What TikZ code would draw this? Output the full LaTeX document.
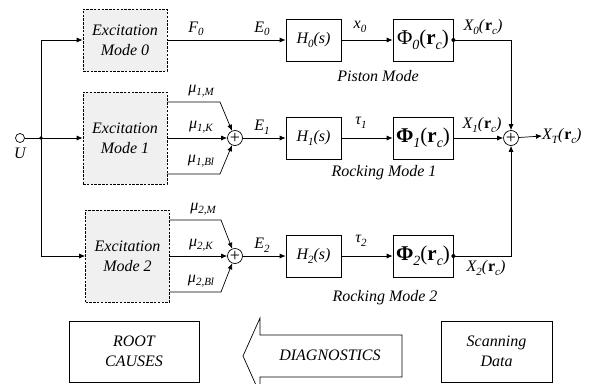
\documentclass[tikz,border=0pt]{standalone}
\usepackage{fontspec}
\setmainfont{Liberation Serif}
\usetikzlibrary{arrows.meta}
\newcommand{\sbs}[1]{\raisebox{-0.22em}{\fontsize{11}{11}\selectfont\itshape #1}}
\newcommand{\psbs}[1]{\raisebox{-0.22em}{\fontsize{14}{14}\selectfont\itshape #1}}
\newcommand{\rb}{\textup{\textbf{r}}}
\newcommand{\phifont}{\fontsize{21}{21}\selectfont\upshape}
\begin{document}
\begin{tikzpicture}[x=1pt,y=-1pt,
  every node/.style={font=\fontsize{16}{20}\selectfont\itshape, inner sep=0pt},
  exc/.style={draw, dash pattern=on 2.5pt off 1.3pt, fill=gray!12, minimum width=84pt, align=center, line width=0.7pt},
  blk/.style={draw, minimum width=55pt, minimum height=42pt, line width=0.7pt},
  phib/.style={draw, minimum width=60pt, minimum height=42pt, line width=0.7pt},
  sumc/.style={circle, draw, minimum size=15pt, line width=0.7pt, font=\fontsize{18}{18}\selectfont\upshape},
  plainbox/.style={draw, align=center, line width=0.7pt},
  arr/.style={-{Latex[length=6pt,width=5pt]}, line width=0.7pt},
  ln/.style={line width=0.7pt},
]
\useasboundingbox (0,0) rectangle (593,383);

% input
\node[circle, draw, minimum size=9pt, line width=0.7pt] (u) at (20,138) {};
\node (ulab) at (20,153) {U};
\coordinate (j) at (41,138);
\coordinate (jt) at (41,40);
\coordinate (jb) at (41,256);

% excitation boxes
\node[exc, minimum height=62pt] (e0) at (125,40) {Excitation\\Mode 0};
\node[exc, minimum height=92pt] (e1) at (125,138) {Excitation\\Mode 1};
\node[exc, minimum height=92pt] (e2) at (127.5,256) {Excitation\\Mode 2};

\draw[ln] (u) -- (j);
\draw[arr] (j) -- (e1.west);
\draw[ln] (jt) -- (jb);
\draw[arr] (jt) -- (e0.west);
\draw[arr] (jb) -- (e2.west);
\fill (j) circle (1.8pt);

% summing junctions
\node[sumc] (s1) at (235,138) {+};
\node[sumc] (s2) at (235,256) {+};
\node[sumc] (so) at (511,138) {+};

% transfer blocks
\node[blk] (h0) at (313.5,40) {H\sbs{0}(s)};
\node[blk] (h1) at (313.5,138) {H\sbs{1}(s)};
\node[blk] (h2) at (313.5,256) {H\sbs{2}(s)};
\node[phib] (p0) at (423,40) {\phifont Φ\psbs{0}(\rb\psbs{c})};
\node[phib] (p1) at (423,138) {\phifont\textbf{Φ}\psbs{1}(\rb\psbs{c})};
\node[phib] (p2) at (423,256) {\phifont\textbf{Φ}\psbs{2}(\rb\psbs{c})};

% row 0
\draw[arr] (e0) -- (h0);
\draw[arr] (h0) -- (p0);
\coordinate (c0) at (511,40);
\draw[arr] (p0.east) -- (c0) -- (so);
\fill (p0.east) circle (2pt);

% row 1
\coordinate (k1a) at (220,102);
\coordinate (k1c) at (220,174);
\draw[arr] (e1.east |- k1a) -- (k1a) -- (s1);
\draw[arr] (e1) -- (s1);
\draw[arr] (e1.east |- k1c) -- (k1c) -- (s1);
\draw[arr] (s1) -- (h1);
\draw[arr] (h1) -- (p1);
\draw[arr] (p1) -- (so);

% row 2
\coordinate (k2a) at (221,220);
\coordinate (k2c) at (221,292);
\draw[arr] (e2.east |- k2a) -- (k2a) -- (s2);
\draw[arr] (e2) -- (s2);
\draw[arr] (e2.east |- k2c) -- (k2c) -- (s2);
\draw[arr] (s2) -- (h2);
\draw[arr] (h2) -- (p2);
\coordinate (c2) at (511,256);
\draw[arr] (p2.east) -- (c2) -- (so);
\fill (p2.east) circle (2pt);

% output
\node[anchor=west] (xt) at (542,136) {X\sbs{T}(\rb\sbs{c})};
\draw[arr] (so) -- (xt.west);

% labels
\node (lf0) at (196,29) {F\sbs{0}};
\node (le0) at (262,29) {E\sbs{0}};
\node (lx0) at (360,27) {x\sbs{0}};
\node (lX0) at (483,27) {X\sbs{0}(\rb\sbs{c})};
\node (lpm) at (378,76) {Piston Mode};

\node (lm1m) at (201,91) {μ\sbs{1,M}};
\node (lm1k) at (201,127) {μ\sbs{1,K}};
\node (lm1b) at (201,161) {μ\sbs{1,Bl}};
\node (le1) at (262,127) {E\sbs{1}};
\node (lt1) at (361,123) {τ\sbs{1}};
\node (lX1) at (482,125) {X\sbs{1}(\rb\sbs{c})};
\node (lrm1) at (384,173) {Rocking Mode 1};

\node (lm2m) at (203,209) {μ\sbs{2,M}};
\node (lm2k) at (201,245) {μ\sbs{2,K}};
\node (lm2b) at (201,281) {μ\sbs{2,Bl}};
\node (le2) at (262,245) {E\sbs{2}};
\node (lt2) at (361,241) {τ\sbs{2}};
\node (lX2) at (486,268) {X\sbs{2}(\rb\sbs{c})};
\node (lrm2) at (385,298) {Rocking Mode 2};

% bottom row
\node[plainbox, minimum width=130pt, minimum height=61pt] (rc) at (134,351.5) {ROOT\\CAUSES};
\draw[ln] (402,335) -- (260,335) -- (260,318) -- (243,356) -- (260,394) -- (260,377) -- (402,377) -- cycle;
\node (diag) at (330,355) {DIAGNOSTICS};
\node[plainbox, minimum width=111pt, minimum height=61pt] (sd) at (496.5,351.5) {Scanning\\Data};
\end{tikzpicture}
\end{document}
